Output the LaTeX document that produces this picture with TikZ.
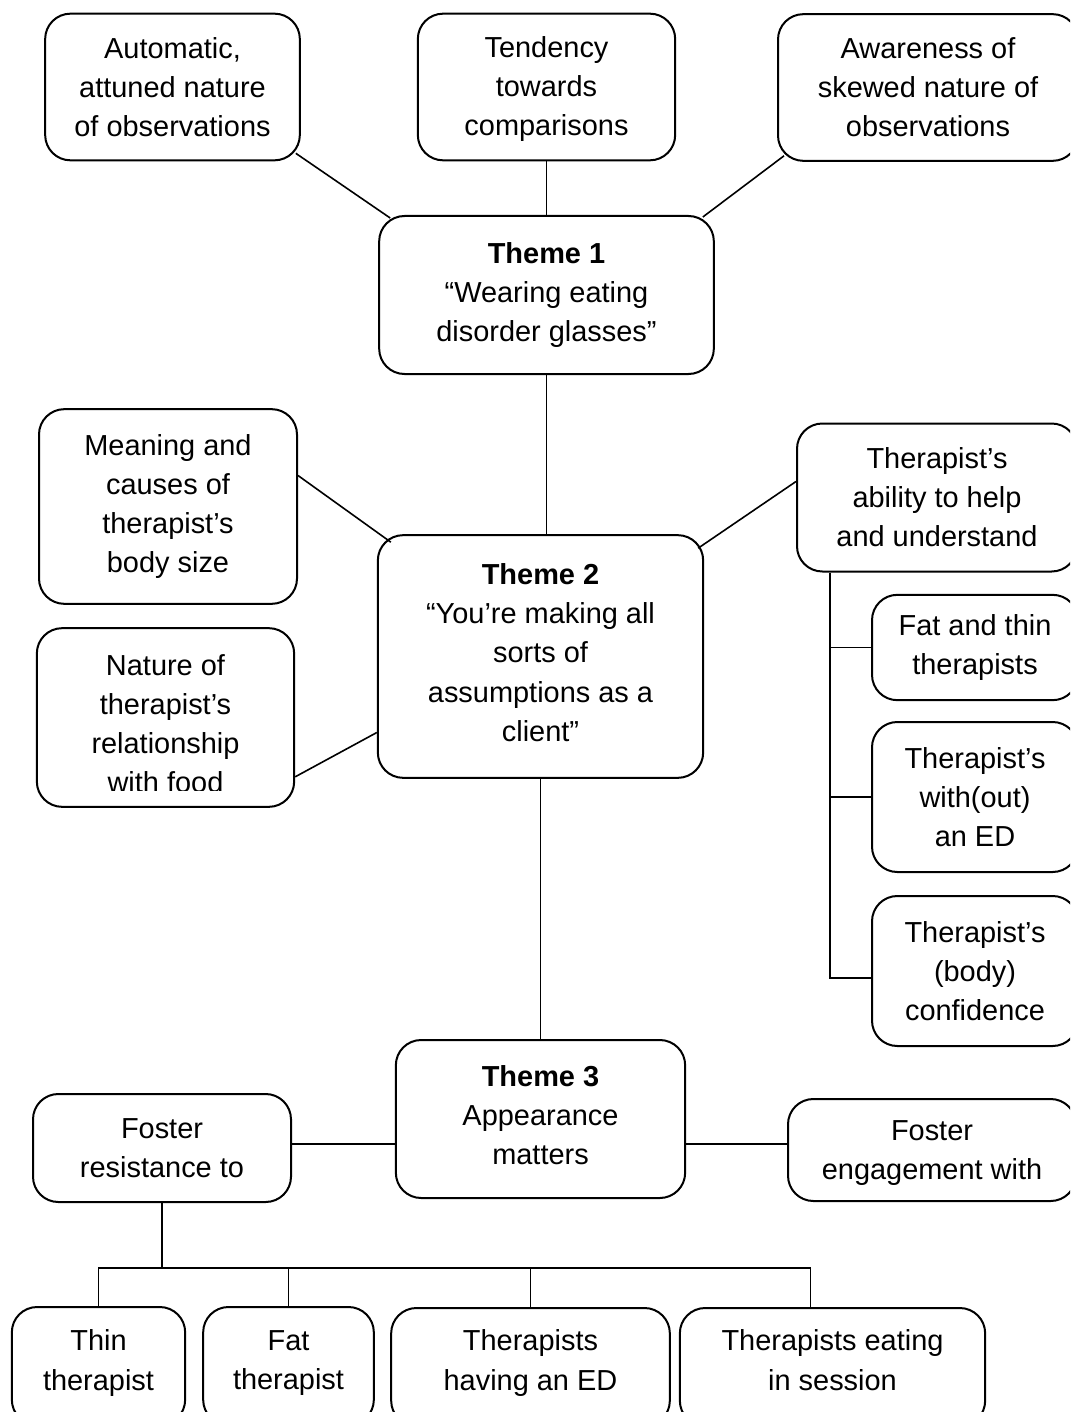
\documentclass[tikz,border=0pt]{standalone}
\usepackage{fontspec}
\setmainfont{Liberation Sans}
\usetikzlibrary{positioning}

\begin{document}
\begin{tikzpicture}[x=0.75pt, y=-0.75pt,
    boxtext/.style={align=center, inner sep=0pt, font=\fontsize{21.7}{29.3}\selectfont},
    box/.style={boxtext, rectangle, draw, rounded corners=19pt, line width=1.5pt},
    link/.style={line width=1.2pt},
    twig/.style={line width=1pt}]
        \clip (0,0) rectangle (1070,1412);

        % Theme 1 and its subthemes
        \node[box, minimum width=191pt, minimum height=110pt] (A1) at
            (172.5,87) {Automatic,\\attuned nature\\of observations};
        \node[box, minimum width=193pt, minimum height=110pt, text depth=1pt] (A2) at
            (546.5,87) {Tendency\\towards\\comparisons};
        \node[box, minimum width=225pt, minimum height=110pt] (A3) at
            (928,87.5) {Awareness of\\skewed nature of\\observations};
        \node[box, minimum width=251pt, minimum height=118.5pt] (T1) at
            (546.5,295) {\textbf{Theme 1}\\“Wearing eating\\disorder glasses”};

        % Theme 2 and its subthemes
        \node[box, minimum width=244pt, minimum height=182pt, text depth=6pt] (T2) at
            (540.5,656.5) {\textbf{Theme 2}\\“You’re making all\\sorts of\\assumptions as a\\client”};
        \node[box, minimum width=193.5pt, minimum height=146pt] (L1) at
            (168,506.5) {Meaning and\\causes of\\therapist’s\\body size};
        \node[box, minimum width=193pt, minimum height=134pt] (L2) at
            (165.5,717.5) {};
        \begin{scope}
            \clip (L2.north west) rectangle ([shift={(0,-17)}]L2.south east);
            \node[boxtext] (L2text) at ([shift={(0,6)}]L2.center)
                {Nature of\\therapist’s\\relationship\\with food};
        \end{scope}
        \node[box, minimum width=210pt, minimum height=111pt] (R1) at
            (937,497.5) {Therapist’s\\ability to help\\and understand};
        \node[box, minimum width=154.5pt, minimum height=79pt] (R2) at
            (975,647.5) {Fat and thin\\therapists};
        \node[box, minimum width=154.5pt, minimum height=112.5pt] (R3) at
            (975,797) {Therapist’s\\with(out)\\an ED};
        \node[box, minimum width=154.5pt, minimum height=112.5pt] (R4) at
            (975,971) {Therapist’s\\(body)\\confidence};

        % Theme 3 and its subthemes
        \node[box, minimum width=217pt, minimum height=118.5pt, text depth=6pt] (T3) at
            (540.5,1119) {\textbf{Theme 3}\\Appearance\\matters};
        \node[box, minimum width=193.5pt, minimum height=81pt] (F1) at
            (162,1148) {Foster\\resistance to};
        \node[box, minimum width=216pt, minimum height=76.5pt, text depth=0pt] (F2) at
            (932,1150) {Foster\\engagement with};
        \node[box, minimum width=130pt, minimum height=88.5pt, text depth=9pt] (B1) at
            (98.5,1366) {Thin\\therapist};
        \node[box, minimum width=128pt, minimum height=88.5pt, text depth=9pt] (B2) at
            (288.5,1366) {Fat\\therapist};
        \node[box, minimum width=209pt, minimum height=88.5pt, text depth=10.5pt] (B3) at
            (530.5,1367) {Therapists\\having an ED};
        \node[box, minimum width=229pt, minimum height=88.5pt, text depth=10.5pt] (B4) at
            (832.5,1367) {Therapists eating\\in session};

        % connectors
        \draw[link] ([shift={(-5,-8)}]A1.south east) -- ([shift={(12,3)}]T1.north west);
        \draw[link] (A2.south) -- (T1.north);
        \draw[link] ([shift={(7,-6)}]A3.south west) -- ([shift={(-12,2)}]T1.north east);
        \draw[link] (T1.south) -- (T1.south |- T2.north);
        \draw[link] ([shift={(0,-31)}]L1.east) -- ([shift={(14,8)}]T2.north west);
        \draw[link] ([shift={(0,-31)}]L2.south east) -- ([shift={(0,76)}]T2.west);
        \draw[link] ([shift={(-6,14)}]T2.north east) -- ([shift={(0,-16)}]R1.west);

        \coordinate (rtrunk) at ([shift={(34,0)}]R1.south west);
        \draw[link] (rtrunk) |- ([shift={(0,7)}]R4.west);
        \draw[link] (rtrunk |- R2.west) -- (R2.west);
        \draw[link] (rtrunk |- R3.west) -- (R3.west);

        \draw[link] (T2.south) -- (T3.north);
        \draw[link] ([shift={(0,-4)}]F1.east) -- ([shift={(0,-4)}]F1.east -| T3.west);
        \draw[link] ([shift={(0,-6)}]T3.east |- F2.west) -- ([shift={(0,-6)}]F2.west);

        \coordinate (fork) at ([shift={(0,65)}]F1.south);
        \coordinate (b4top) at ([shift={(-22,0)}]B4.north);
        \draw[twig] (F1.south) -- (fork);
        \draw[twig] (B1.north) |- (b4top |- fork) -- (b4top);
        \draw[twig] (B2.north) -- (B2.north |- fork);
        \draw[twig] (B3.north) -- (B3.north |- fork);

\end{tikzpicture}
\end{document}
